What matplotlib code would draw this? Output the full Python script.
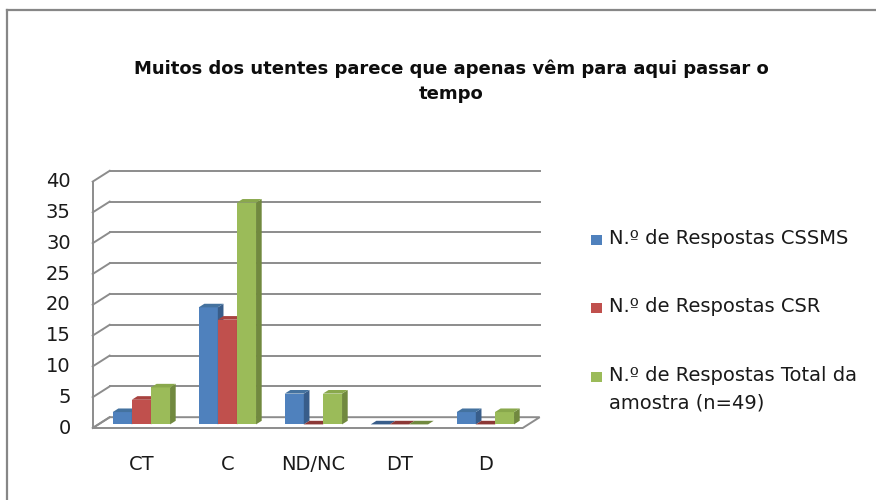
import matplotlib

matplotlib.use("Agg")
import matplotlib.pyplot as plt
from matplotlib.patches import Polygon, Rectangle

# data
categorias = ["CT", "C", "ND/NC", "DT", "D"]
series_nomes = [
    "N.º de Respostas CSSMS",
    "N.º de Respostas CSR",
    "N.º de Respostas Total da\namostra (n=49)",
]
resp_cssms = [2, 19, 5, 0, 2]
resp_csr = [4, 17, 0, 0, 0]
resp_total = [6, 36, 5, 0, 2]
y_ticks = [0, 5, 10, 15, 20, 25, 30, 35, 40]
titulo = "Muitos dos utentes parece que apenas vêm para aqui passar o\ntempo"

# cores estilo Excel 2007: frente, topo, lado
cores = [
    ("#4F81BD", "#44729F", "#385D8A"),
    ("#C0504D", "#A8423F", "#8C3836"),
    ("#9BBB59", "#89A84C", "#71893F"),
]
cor_grade = "#8C8C8C"
cor_texto = "#1A1A1A"

W, H = 876, 500
plt.rcParams["font.family"] = ["DejaVu Sans"]

# geometria (pixels)
X0_PX = 92.7      # canto frontal esquerdo do piso
CAT_PX = 86.0     # largura de cada categoria
Y0_PX = 428.0     # valor 0 na face frontal
VAL_PX = 6.16     # pixels por unidade
PROF_DX = 17.0    # profundidade oblíqua
PROF_DY = 10.8


def to_x(px):
    return (px - X0_PX) / CAT_PX - 0.5


def to_v(py):
    return (Y0_PX - py) / VAL_PX


DX = PROF_DX / CAT_PX
DY = PROF_DY / VAL_PX

fig = plt.figure(figsize=(W / 100, H / 100), dpi=100)
ax_l, ax_r, ax_t, ax_b = 30, 620, 140, 490
ax = fig.add_axes([ax_l / W, 1 - ax_b / H, (ax_r - ax_l) / W, (ax_b - ax_t) / H])
ax.set_xlim(to_x(ax_l), to_x(ax_r))
ax.set_ylim(to_v(ax_b), to_v(ax_t))
ax.axis("off")

n_cat = len(categorias)
x_esq = -0.5
x_dir = n_cat - 0.5
v_max = y_ticks[-1]

# piso
piso = Polygon(
    [(x_esq, 0), (x_dir, 0), (x_dir + DX, DY), (x_esq + DX, DY)],
    closed=True, facecolor="white", edgecolor=cor_grade, lw=1.4, zorder=1,
)
ax.add_patch(piso)

# grelha: parede lateral (diagonais) e parede de fundo (horizontais)
for v in y_ticks:
    ax.plot([x_esq, x_esq + DX], [v, v + DY], color=cor_grade, lw=1.4, zorder=1)
    if v > 0:
        ax.plot([x_esq + DX, x_dir + DX], [v + DY, v + DY], color=cor_grade,
                lw=1.4, zorder=1)
    ax.text(x_esq - 22 / CAT_PX, v, str(v), ha="right", va="center",
            fontsize=14, color=cor_texto)
ax.plot([x_esq, x_esq], [0, v_max], color=cor_grade, lw=1.4, zorder=1)

# barras 3D (frente no terço frontal da profundidade)
larg = 1 / 4.5
f0, f1 = 1 / 3, 2 / 3
series = [resp_cssms, resp_csr, resp_total]
z = 2
for i in range(n_cat):
    for s, vals in enumerate(series):
        h = vals[i]
        xl = i - 1.5 * larg + s * larg + f0 * DX
        xr = xl + larg
        yb = f0 * DY
        d_x = (f1 - f0) * DX
        d_y = (f1 - f0) * DY
        frente, topo, lado = cores[s]
        if h > 0:
            ax.add_patch(Rectangle((xl, yb), larg, h, facecolor=frente,
                                   edgecolor="none", zorder=z))
            ax.add_patch(Polygon([(xr, yb), (xr + d_x, yb + d_y),
                                  (xr + d_x, yb + d_y + h), (xr, yb + h)],
                                 closed=True, facecolor=lado, edgecolor="none",
                                 zorder=z))
        ax.add_patch(Polygon([(xl, yb + h), (xr, yb + h),
                              (xr + d_x, yb + h + d_y), (xl + d_x, yb + h + d_y)],
                             closed=True, facecolor=topo if h > 0 else lado,
                             edgecolor="none", zorder=z))
        z += 1

# rótulos das categorias
for i, cat in enumerate(categorias):
    ax.text(i + 0.5 * DX / 1.5, to_v(465), cat, ha="center", va="center",
            fontsize=14, color=cor_texto)

# título
fig.text(451 / W, 1 - 81 / H, titulo, ha="center", va="center",
         fontsize=13, fontweight="bold", linespacing=1.5, color="#0D0D0D")

# legenda
leg_y = [240, 308, 377]
for s, nome in enumerate(series_nomes):
    yc = leg_y[s]
    fig.patches.append(Rectangle((591 / W, 1 - (yc + 5) / H), 10.5 / W, 10.5 / H,
                                 facecolor=cores[s][0], edgecolor="none",
                                 transform=fig.transFigure))
    fig.text(609 / W, 1 - (yc - 11) / H, nome, ha="left", va="top",
             fontsize=14, linespacing=1.55, color=cor_texto)

# moldura (só topo e esquerda visíveis)
fig.add_artist(plt.Line2D([7 / W, 1], [1 - 10 / H, 1 - 10 / H],
                          color="#878787", lw=1.6, transform=fig.transFigure))
fig.add_artist(plt.Line2D([7 / W, 7 / W], [1 - 10 / H, 0],
                          color="#878787", lw=1.6, transform=fig.transFigure))

fig.savefig("out.png", dpi=100, facecolor="white")
